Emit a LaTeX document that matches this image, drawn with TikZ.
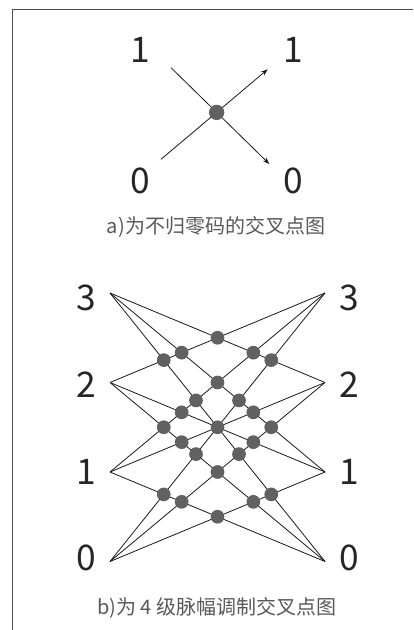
\documentclass[tikz,border=0pt]{standalone}
\usepackage{fontspec}
\setmainfont{Noto Sans CJK SC}
\usetikzlibrary{arrows.meta,calc}
\begin{document}
\begin{tikzpicture}[x=0.75pt,y=-0.75pt,
  digit/.style={font=\fontsize{26.5}{30}\selectfont, text=black!85, inner sep=0pt},
  captext/.style={font=\fontsize{15}{17}\selectfont, text=black!65, inner sep=0pt},
  wire/.style={line width=0.6pt, black!90},
  arrowwire/.style={wire, -{Stealth[length=5pt,width=3.6pt]}},
  dot/.style={circle, fill=black!62, inner sep=0pt, minimum size=10.3pt},
  bigdot/.style={dot, minimum size=11.5pt},
  frame/.style={line width=0.8pt, black!70}]
\useasboundingbox (0,0) rectangle (413,630);
% frame
\coordinate (ftr) at (413,9.3);
\coordinate (ftl) at (12.7,9.3);
\coordinate (fbl) at (12.7,630);
\draw[frame] (ftr) -- (ftl) -- (fbl);

% ---- part a ----
\node[digit] (a1l) at (140,50) {1};
\node[digit] (a1r) at (293,50) {1};
\node[digit] (a0l) at (140,181) {0};
\node[digit] (a0r) at (293,181) {0};
\coordinate (s1) at (171,67.7);
\coordinate (e1) at (269.3,164);
\coordinate (s2) at (161,159.3);
\coordinate (e2) at (267.7,69.3);
\draw[arrowwire] (s1) -- (e1);
\draw[arrowwire] (s2) -- (e2);
\node[bigdot] (ca) at (intersection of s1--e1 and s2--e2) {};
\node[captext] (capa) at (216,227) {a)为不归零码的交叉点图};

% ---- part b ----
\foreach \k/\yy in {0/561.5,1/472,2/382.5,3/293}{
  \coordinate (L\k) at (110,\yy);
  \coordinate (R\k) at (325,\yy);
}
\node[digit] (bl3) at (86,298) {3};
\node[digit] (bl2) at (86,384.5) {2};
\node[digit] (bl1) at (86,472) {1};
\node[digit] (bl0) at (86,558.3) {0};
\node[digit] (br3) at (349.3,298) {3};
\node[digit] (br2) at (349.3,384.5) {2};
\node[digit] (br1) at (349.3,472) {1};
\node[digit] (br0) at (349.3,558.3) {0};
\foreach \i/\j in {3/0,3/1,3/2,2/0,2/1,2/3,1/0,1/2,1/3,0/1,0/2,0/3}{
  \draw[wire] (L\i) -- (R\j);
}
% crossing dots
\node[dot] (d01) at ($(L3)!0.25!(R0)$) {};
\node[dot] (d02) at ($(L2)!0.25!(R0)$) {};
\node[dot] (d03) at ($(L1)!0.25!(R0)$) {};
\node[dot] (d04) at ($(L3)!0.3333!(R1)$) {};
\node[dot] (d05) at ($(L2)!0.3333!(R1)$) {};
\node[dot] (d06) at ($(L2)!0.3333!(R0)$) {};
\node[dot] (d07) at ($(L1)!0.3333!(R0)$) {};
\node[dot] (d08) at ($(L3)!0.4!(R0)$) {};
\node[dot] (d09) at ($(L2)!0.4!(R0)$) {};
\node[dot] (d10) at ($(L3)!0.5!(R2)$) {};
\node[dot] (d11) at ($(L3)!0.5!(R1)$) {};
\node[dot] (d12) at ($(L3)!0.5!(R0)$) {};
\node[dot] (d13) at ($(L2)!0.5!(R0)$) {};
\node[dot] (d14) at ($(L1)!0.5!(R0)$) {};
\node[dot] (d15) at ($(L0)!0.6!(R3)$) {};
\node[dot] (d16) at ($(L0)!0.6!(R2)$) {};
\node[dot] (d17) at ($(L1)!0.6667!(R3)$) {};
\node[dot] (d18) at ($(L1)!0.6667!(R2)$) {};
\node[dot] (d19) at ($(L0)!0.6667!(R2)$) {};
\node[dot] (d20) at ($(L0)!0.6667!(R1)$) {};
\node[dot] (d21) at ($(L0)!0.75!(R3)$) {};
\node[dot] (d22) at ($(L0)!0.75!(R2)$) {};
\node[dot] (d23) at ($(L0)!0.75!(R1)$) {};
\node[captext] (capb) at (216.7,608) {b)为 4 级脉幅调制交叉点图};
\end{tikzpicture}
\end{document}
